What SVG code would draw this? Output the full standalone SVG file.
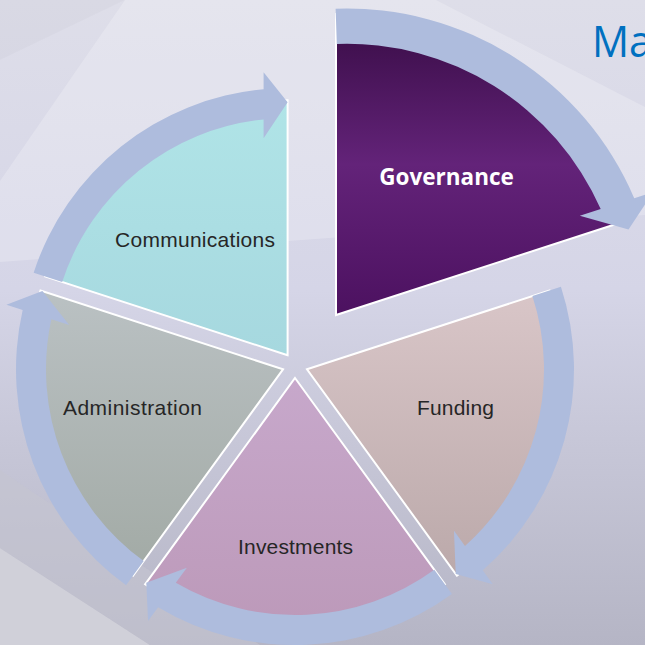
<svg xmlns="http://www.w3.org/2000/svg" width="645" height="645" viewBox="0 0 645 645">
  <defs>
    <linearGradient id="bg" x1="0" y1="0" x2="0" y2="1">
      <stop offset="0" stop-color="#dedee9"/>
      <stop offset="0.45" stop-color="#d5d5e7"/>
      <stop offset="0.68" stop-color="#c7c7d8"/>
      <stop offset="1" stop-color="#b5b5c5"/>
    </linearGradient>
    <linearGradient id="gGov" x1="0" y1="14" x2="0" y2="315" gradientUnits="userSpaceOnUse">
      <stop offset="0" stop-color="#380c45"/>
      <stop offset="0.5" stop-color="#632379"/>
      <stop offset="1" stop-color="#4c1160"/>
    </linearGradient>
    <linearGradient id="gCom" x1="0" y1="0" x2="0" y2="1">
      <stop offset="0" stop-color="#b0e4e7"/>
      <stop offset="1" stop-color="#a6d8df"/>
    </linearGradient>
    <linearGradient id="gAdm" x1="0" y1="0" x2="0" y2="1">
      <stop offset="0" stop-color="#bac1c3"/>
      <stop offset="1" stop-color="#a2aaa5"/>
    </linearGradient>
    <linearGradient id="gFun" x1="0" y1="0" x2="0" y2="1">
      <stop offset="0" stop-color="#d9c6c8"/>
      <stop offset="1" stop-color="#bba9aa"/>
    </linearGradient>
    <linearGradient id="gInv" x1="0" y1="0" x2="0" y2="1">
      <stop offset="0" stop-color="#c7a8cb"/>
      <stop offset="1" stop-color="#bc99b9"/>
    </linearGradient>
    <path id="arrow" d="M-253.93,-82.51 A267,267 0 0 1 -24,-265.92 L-24,-283 L0,-253 L-24,-217 L-24,-235.78 A237,237 0 0 0 -225.4,-73.24 Z"/>
  </defs>
  <style>
    .seg { stroke: #ffffff; stroke-width: 2; stroke-linejoin: miter; }
    .arr { fill: #aebcdd; }
    .lbl { font-family: "Liberation Sans", Arial, sans-serif; font-size: 21px; fill: #262626; text-anchor: middle; }
    .lblw { font-family: "Open Sans", "Liberation Sans", sans-serif; font-weight: bold; font-size: 22.5px; fill: #ffffff; text-anchor: middle; }
  </style>

  <g id="background">
    <rect x="0" y="0" width="645" height="645" fill="url(#bg)"/>
    <polygon points="125,0 436,0 645,107 645,215 0,262 0,181" fill="#ffffff" fill-opacity="0.22"/>
    <polygon points="0,0 125,0 0,60" fill="#000000" fill-opacity="0.02"/>
    <polygon points="0,548 150,645 0,645" fill="#d0d0d9"/>
    <polygon points="0,470 0,548 150,645 260,645" fill="#c4c4d0" fill-opacity="0.6"/>
  </g>

  <g id="title">
    <text x="592" y="57" font-family="Open Sans, Liberation Sans, sans-serif" font-size="44" fill="#0070c0" textLength="60" lengthAdjust="spacingAndGlyphs">Ma</text>
  </g>

  <g id="node-communications">
    <path class="seg" fill="url(#gCom)" d="M287.6,355.2 L45.1,276.4 A255,255 0 0 1 287.6,100.2 Z"/>
    <text class="lbl" x="195" y="247" textLength="160">Communications</text>
  </g>
  <g id="node-administration">
    <path class="seg" fill="url(#gAdm)" d="M283,369.3 L133.1,575.6 A255,255 0 0 1 40.5,290.5 Z"/>
    <text class="lbl" x="132.5" y="415" textLength="139">Administration</text>
  </g>
  <g id="node-investments">
    <path class="seg" fill="url(#gInv)" d="M295,378 L444.9,584.3 A255,255 0 0 1 145.1,584.3 Z"/>
    <text class="lbl" x="295.5" y="554" textLength="115">Investments</text>
  </g>
  <g id="node-funding">
    <path class="seg" fill="url(#gFun)" d="M307,369.3 L549.5,290.5 A255,255 0 0 1 456.9,575.6 Z"/>
    <text class="lbl" x="455.5" y="415" textLength="77">Funding</text>
  </g>
  <g id="node-governance">
    <path class="seg" fill="url(#gGov)" d="M336,315 L336,14 A301,301 0 0 1 622.3,222 Z"/>
    <text class="lblw" x="446.5" y="185">Governance</text>
  </g>

  <g id="connectors">
    <use href="#arrow" class="arr" transform="translate(287.6,355.2)"/>
    <path class="arr" transform="translate(347,321) rotate(72) scale(1.17)" d="M-256.8,-73.2 A267,267 0 0 1 -24,-265.92 L-24,-283 L0,-253 L-24,-217 L-24,-235.78 A237,237 0 0 0 -227.9,-64.9 Z"/>
    <use href="#arrow" class="arr" transform="translate(307,369.3) rotate(144)"/>
    <use href="#arrow" class="arr" transform="translate(295,378) rotate(216)"/>
    <use href="#arrow" class="arr" transform="translate(283,369.3) rotate(288)"/>
  </g>
</svg>
